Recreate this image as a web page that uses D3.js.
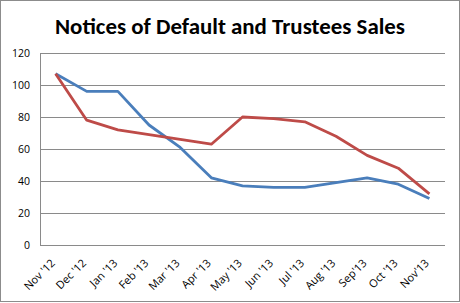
<!DOCTYPE html>
<html><head><meta charset="utf-8">
<script src="https://cdn.jsdelivr.net/npm/d3@7"></script>
<style>body{margin:0;background:#fff}</style>
</head><body><svg id="c" width="460" height="303"></svg>
<script>
const categories = ["Nov '12","Dec '12","Jan '13","Feb '13","Mar '13","Apr '13","May '13","Jun '13","Jul '13","Aug '13","Sep'13","Oct '13","Nov'13"];
const blueValues = [107, 96, 96, 75, 61, 42, 37, 36, 36, 39, 42, 38, 29];
const redValues  = [107, 78, 72, 69, 66, 63, 80, 79, 77, 68, 56, 48, 32];
const yTicks = [0, 20, 40, 60, 80, 100, 120];
const title = "Notices of Default and Trustees Sales";

const svg = d3.select("#c");
svg.append("rect").attr("x",0.5).attr("y",0.5).attr("width",459).attr("height",301)
  .attr("fill","#fff").attr("stroke","#8c8c8c");

const m = {l:40, r:445, t:53, b:245};
const x = d3.scalePoint().domain(categories).range([m.l, m.r]).padding(0.5);
const y = d3.scaleLinear().domain([0,120]).range([m.b, m.t]);

svg.append("text").attr("x",230).attr("y",34).attr("text-anchor","middle")
  .attr("font-family","Carlito, 'Open Sans', sans-serif").attr("font-weight","bold")
  .attr("font-size",22).attr("fill","#000").attr("textLength",350).attr("lengthAdjust","spacingAndGlyphs").text(title);

const gy = svg.append("g").attr("transform",`translate(${m.l},0)`)
  .call(d3.axisLeft(y).tickValues(yTicks).tickSize(-(m.r-m.l)).tickPadding(10));
gy.select(".domain").remove();
gy.selectAll(".tick line").attr("stroke","#8a8a8a").attr("stroke-width",1);
gy.selectAll(".tick text").attr("font-family","'Open Sans', sans-serif").attr("font-size",10.5).attr("fill","#000");

svg.append("line").attr("x1",m.l+0.5).attr("x2",m.l+0.5).attr("y1",m.t).attr("y2",m.b).attr("stroke","#8a8a8a");

const gx = svg.append("g").attr("transform",`translate(0,${m.b})`)
  .call(d3.axisBottom(x).tickSize(0));
gx.select(".domain").attr("stroke","#8a8a8a").attr("d",`M${m.l},0.5H${m.r}`);
gx.selectAll(".tick text").attr("font-family","'Open Sans', sans-serif").attr("font-size",11).attr("fill","#000")
  .attr("x",0).attr("y",0).attr("dy","0.35em")
  .attr("text-anchor","end").attr("transform","translate(-3,16) rotate(-45)");

const line = d3.line().x((d,i)=>x(categories[i])).y(d=>y(d));
svg.append("path").datum(blueValues).attr("d",line).attr("fill","none").attr("stroke","#4a7ebb").attr("stroke-width",2.8).attr("stroke-linejoin","round");
svg.append("path").datum(redValues).attr("d",line).attr("fill","none").attr("stroke","#be4b48").attr("stroke-width",2.8).attr("stroke-linejoin","round");
</script></body></html>
